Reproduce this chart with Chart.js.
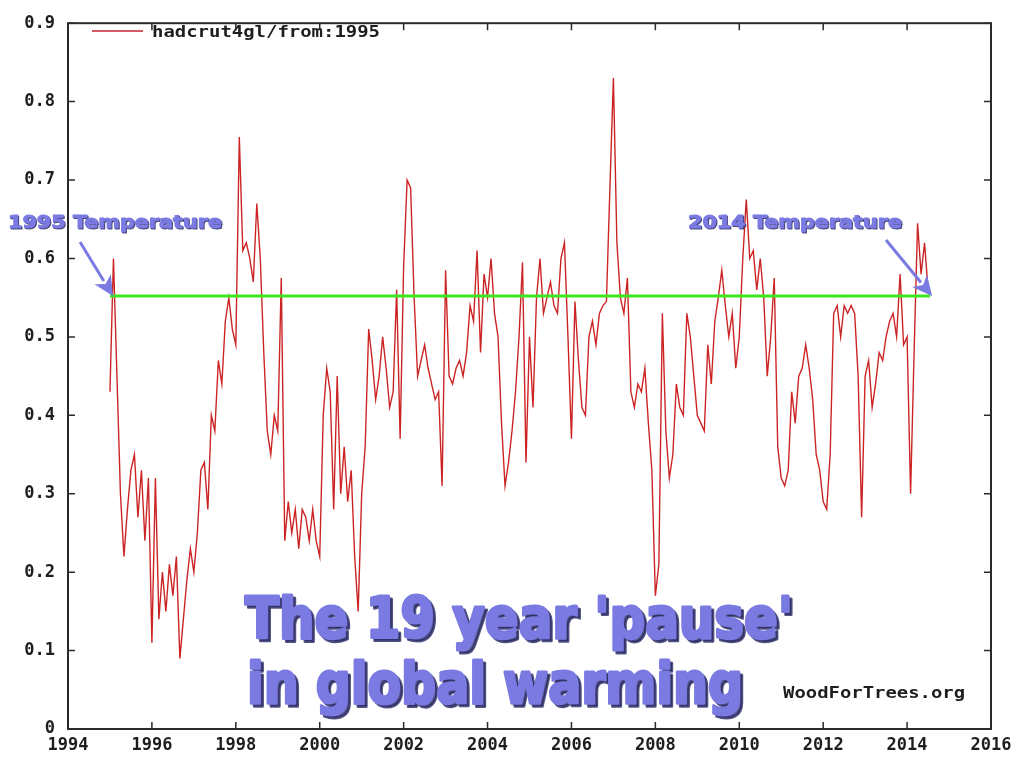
<!DOCTYPE html>
<html>
<head>
    <title>The 19 year pause - hadcrut4gl</title>
    <script src="https://cdn.jsdelivr.net/npm/chart.js@4.4.0/dist/chart.umd.min.js"></script>
    <style>
        html, body {
            margin: 0;
            padding: 0;
            background-color: #ffffff;
            overflow: hidden;
        }
        #chart {
            display: block;
        }
    </style>
</head>
<body>
    <canvas id="chart" width="1023" height="760"></canvas>
    <script>
        // monthly hadcrut4gl anomaly, Jan 1995 onwards
        const startYear = 1995;
        const anomaly = [
            0.43, 0.60, 0.45, 0.30, 0.22, 0.28, 0.33, 0.35, 0.27, 0.33, 0.24, 0.32,   // 1995
            0.11, 0.32, 0.14, 0.20, 0.15, 0.21, 0.17, 0.22, 0.09, 0.14, 0.19, 0.23,   // 1996
            0.20, 0.25, 0.33, 0.34, 0.28, 0.40, 0.38, 0.47, 0.44, 0.52, 0.55, 0.51,   // 1997
            0.49, 0.755, 0.61, 0.62, 0.60, 0.57, 0.67, 0.60, 0.48, 0.38, 0.35, 0.40,  // 1998
            0.38, 0.575, 0.24, 0.29, 0.25, 0.28, 0.23, 0.28, 0.27, 0.24, 0.28, 0.24,  // 1999
            0.22, 0.40, 0.46, 0.43, 0.28, 0.45, 0.30, 0.36, 0.29, 0.33, 0.22, 0.15,   // 2000
            0.30, 0.36, 0.51, 0.47, 0.42, 0.45, 0.50, 0.46, 0.41, 0.43, 0.56, 0.37,   // 2001
            0.59, 0.70, 0.69, 0.55, 0.45, 0.47, 0.49, 0.46, 0.44, 0.42, 0.43, 0.31,   // 2002
            0.585, 0.45, 0.44, 0.46, 0.47, 0.45, 0.48, 0.54, 0.52, 0.61, 0.48, 0.58,  // 2003
            0.55, 0.60, 0.53, 0.50, 0.39, 0.31, 0.34, 0.38, 0.43, 0.50, 0.595, 0.34,  // 2004
            0.50, 0.41, 0.55, 0.60, 0.53, 0.55, 0.57, 0.54, 0.53, 0.60, 0.62, 0.50,   // 2005
            0.37, 0.545, 0.47, 0.41, 0.40, 0.50, 0.52, 0.49, 0.53, 0.54, 0.545, 0.69, // 2006
            0.83, 0.62, 0.55, 0.53, 0.575, 0.43, 0.41, 0.44, 0.43, 0.46, 0.39, 0.33,  // 2007
            0.17, 0.21, 0.53, 0.38, 0.32, 0.35, 0.44, 0.41, 0.40, 0.53, 0.50, 0.45,   // 2008
            0.40, 0.39, 0.38, 0.49, 0.44, 0.52, 0.55, 0.585, 0.54, 0.50, 0.53, 0.46,  // 2009
            0.50, 0.60, 0.675, 0.60, 0.61, 0.56, 0.60, 0.55, 0.45, 0.50, 0.575, 0.36, // 2010
            0.32, 0.31, 0.33, 0.43, 0.39, 0.45, 0.46, 0.49, 0.46, 0.42, 0.35, 0.33,   // 2011
            0.29, 0.28, 0.35, 0.53, 0.54, 0.50, 0.54, 0.53, 0.54, 0.53, 0.45, 0.27,   // 2012
            0.45, 0.47, 0.41, 0.44, 0.48, 0.47, 0.50, 0.52, 0.53, 0.50, 0.58, 0.49,   // 2013
            0.50, 0.30, 0.48, 0.645, 0.58, 0.62, 0.56                                 // 2014
        ];

        // flat "pause" line drawn on top
        const pauseLevel = 0.552;
        const pauseYears = [1995.0, 2014.55];

        const xTicks = [1994, 1996, 1998, 2000, 2002, 2004, 2006, 2008, 2010, 2012, 2014, 2016];
        const yTicks = [0, 0.1, 0.2, 0.3, 0.4, 0.5, 0.6, 0.7, 0.8, 0.9];

        const seriesLabel = 'hadcrut4gl/from:1995';
        const noteLeft = '1995 Temperature';
        const noteRight = '2014 Temperature';
        const bigLine1 = "The 19 year 'pause'";
        const bigLine2 = 'in global warming';
        const credit = 'WoodForTrees.org';

        const redColor = 'rgb(204, 36, 36)';
        const greenColor = 'rgb(60, 230, 30)';
        const noteColor = 'rgb(122, 122, 226)';
        const tickFont = { family: "'DejaVu Sans Mono', monospace", size: 17, weight: 'bold' };

        // draw text squeezed/stretched to a given width
        function fitText(ctx, text, x, y, width, font, stroke) {
            ctx.save();
            ctx.font = font;
            const w = ctx.measureText(text).width;
            ctx.translate(x, y);
            ctx.scale(width / w, 1);
            if (stroke) {
                ctx.lineJoin = 'round';
                ctx.lineWidth = stroke;
                ctx.strokeStyle = ctx.fillStyle;
                ctx.strokeText(text, 0, 0);
            }
            ctx.fillText(text, 0, 0);
            ctx.restore();
        }

        function arrow(ctx, x0, y0, x1, y1) {
            const ang = Math.atan2(y1 - y0, x1 - x0);
            const head = 22;
            ctx.save();
            ctx.strokeStyle = noteColor;
            ctx.fillStyle = noteColor;
            ctx.lineWidth = 3;
            ctx.beginPath();
            ctx.moveTo(x0, y0);
            ctx.lineTo(x1 - Math.cos(ang) * head * 0.8, y1 - Math.sin(ang) * head * 0.8);
            ctx.stroke();
            ctx.beginPath();
            ctx.moveTo(x1, y1);
            ctx.lineTo(x1 - head * Math.cos(ang - 0.45), y1 - head * Math.sin(ang - 0.45));
            ctx.lineTo(x1 - head * 0.65 * Math.cos(ang), y1 - head * 0.65 * Math.sin(ang));
            ctx.lineTo(x1 - head * Math.cos(ang + 0.45), y1 - head * Math.sin(ang + 0.45));
            ctx.closePath();
            ctx.fill();
            ctx.restore();
        }

        function shadowText(ctx, text, x, y, width, font, off, stroke) {
            ctx.fillStyle = 'rgba(40, 40, 100, 0.8)';
            fitText(ctx, text, x + off, y + off, width, font, stroke);
            ctx.fillStyle = noteColor;
            fitText(ctx, text, x, y, width, font, stroke);
        }

        // frame with inward tick marks on all four sides
        const framePlugin = {
            id: 'frame',
            afterDraw(chart) {
                const { ctx, chartArea: a, scales: { x, y } } = chart;
                ctx.save();
                ctx.strokeStyle = '#2a2a2a';
                ctx.lineWidth = 1.5;
                xTicks.forEach(v => {
                    const px = x.getPixelForValue(v);
                    ctx.beginPath();
                    ctx.moveTo(px, a.bottom); ctx.lineTo(px, a.bottom - 7);
                    ctx.moveTo(px, a.top); ctx.lineTo(px, a.top + 7);
                    ctx.stroke();
                });
                yTicks.forEach(v => {
                    const py = y.getPixelForValue(v);
                    ctx.beginPath();
                    ctx.moveTo(a.left, py); ctx.lineTo(a.left + 7, py);
                    ctx.moveTo(a.right, py); ctx.lineTo(a.right - 7, py);
                    ctx.stroke();
                });
                ctx.lineWidth = 2;
                ctx.strokeRect(a.left, a.top, a.right - a.left, a.bottom - a.top);
                ctx.restore();
            }
        };

        // legend, notes, arrows and the big caption
        const notesPlugin = {
            id: 'notes',
            afterDraw(chart) {
                const { ctx, scales: { x, y } } = chart;
                ctx.save();
                ctx.textBaseline = 'alphabetic';

                // legend
                ctx.strokeStyle = 'rgb(214, 90, 100)';
                ctx.lineWidth = 2;
                ctx.beginPath();
                ctx.moveTo(92, 31); ctx.lineTo(143, 31);
                ctx.stroke();
                ctx.fillStyle = '#1e1e1e';
                fitText(ctx, seriesLabel, 152, 37, 228, "bold 16px 'DejaVu Sans Mono'");

                // notes + arrows
                const yPause = y.getPixelForValue(pauseLevel);
                shadowText(ctx, noteLeft, 8, 228, 214, "bold 18px 'DejaVu Sans'", 1, 1);
                shadowText(ctx, noteRight, 688, 228, 214, "bold 18px 'DejaVu Sans'", 1, 1);
                arrow(ctx, 80, 242, x.getPixelForValue(pauseYears[0]) + 3, yPause);
                arrow(ctx, 886, 240, x.getPixelForValue(pauseYears[1]) + 2, yPause);

                // big caption
                shadowText(ctx, bigLine1, 245, 638, 548, "bold 57px 'DejaVu Sans'", 3, 3);
                shadowText(ctx, bigLine2, 247, 703, 496, "bold 57px 'DejaVu Sans'", 3, 3);

                // credit
                ctx.fillStyle = '#1e1e1e';
                fitText(ctx, credit, 783, 698, 182, "bold 15px 'DejaVu Sans Mono'");
                ctx.restore();
            }
        };

        const points = anomaly.map((v, i) => ({ x: startYear + i / 12, y: v }));
        const pausePoints = pauseYears.map(yr => ({ x: yr, y: pauseLevel }));

        new Chart(document.getElementById('chart').getContext('2d'), {
            type: 'line',
            data: {
                datasets: [
                    {
                        label: 'pause',
                        data: pausePoints,
                        borderColor: greenColor,
                        borderWidth: 3,
                        pointRadius: 0,
                        order: 0
                    },
                    {
                        label: seriesLabel,
                        data: points,
                        borderColor: redColor,
                        borderWidth: 1.4,
                        pointRadius: 0,
                        tension: 0,
                        order: 1
                    }
                ]
            },
            options: {
                responsive: false,
                animation: false,
                devicePixelRatio: 1,
                layout: { padding: { top: 16, right: 32, left: 0, bottom: 0 } },
                plugins: {
                    legend: { display: false },
                    tooltip: { enabled: false }
                },
                scales: {
                    x: {
                        type: 'linear',
                        min: 1994,
                        max: 2016,
                        afterBuildTicks: s => { s.ticks = xTicks.map(v => ({ value: v })); },
                        afterFit: s => { s.height = 31; },
                        grid: { display: false, drawTicks: false },
                        border: { display: false },
                        ticks: {
                            callback: v => String(v),
                            color: '#1e1e1e',
                            font: tickFont,
                            padding: 6,
                            maxRotation: 0,
                            autoSkip: false
                        }
                    },
                    y: {
                        min: 0,
                        max: 0.9,
                        afterBuildTicks: s => { s.ticks = yTicks.map(v => ({ value: v })); },
                        afterFit: s => { s.width = 68; },
                        grid: { display: false, drawTicks: false },
                        border: { display: false },
                        ticks: {
                            callback: v => v === 0 ? '0' : v.toFixed(1),
                            color: '#1e1e1e',
                            font: tickFont,
                            padding: 13,
                            autoSkip: false
                        }
                    }
                }
            },
            plugins: [framePlugin, notesPlugin]
        });
    </script>
</body>
</html>
